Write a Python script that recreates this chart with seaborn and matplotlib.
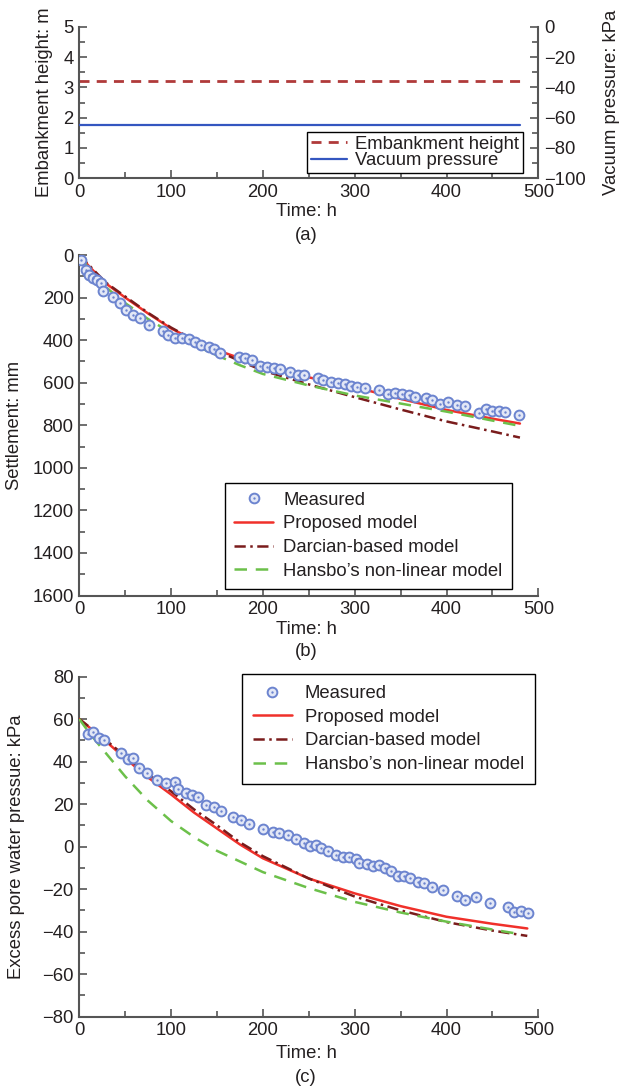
import numpy as np
import pandas as pd
import matplotlib
matplotlib.use("Agg")
import matplotlib.pyplot as plt
import seaborn as sns
from matplotlib.lines import Line2D
from matplotlib.legend_handler import HandlerTuple
from matplotlib.ticker import MultipleLocator

# ---------------- data ----------------
# (a) loading
time_a = [0, 480]
emb_height = [3.2, 3.2]          # m
vac_pressure = [-65, -65]        # kPa

# (b) settlement
t_meas_b = [2, 7, 11, 15, 19, 24, 26, 37, 44, 51, 59, 66, 76, 91, 97, 104, 112, 119, 126,
            133, 141, 147, 153, 174, 181, 188, 197, 205, 212, 219, 230, 238, 245, 260, 265,
            274, 282, 289, 296, 303, 311, 327, 336, 344, 351, 359, 366, 378, 384, 393, 402,
            411, 420, 435, 443, 450, 457, 464, 479]
s_meas_b = [24, 70, 94, 109, 117, 133, 168, 196, 227, 259, 282, 297, 329, 356, 376, 388, 392,
            397, 407, 423, 431, 444, 460, 479, 486, 494, 522, 525, 533, 537, 548, 563, 563,
            580, 588, 596, 601, 607, 617, 622, 627, 635, 654, 647, 651, 658, 666, 674, 682,
            698, 690, 705, 710, 744, 722, 734, 734, 737, 752]
t_model_b = [0, 10, 20, 30, 50, 75, 100, 125, 150, 175, 200, 250, 300, 350, 400, 450, 480]
s_proposed = [0, 50, 95, 137, 200, 275, 345, 400, 447, 485, 520, 575, 621, 676, 728, 769, 792]
s_darcian = [0, 45, 90, 133, 195, 272, 341, 400, 450, 498, 543, 608, 668, 726, 782, 829, 858]
s_hansbo = [0, 60, 115, 155, 226, 301, 366, 422, 472, 518, 559, 613, 660, 698, 736, 778, 803]

# (c) excess pore water pressure
t_meas_c = [9, 15, 22, 27, 45, 53, 59, 65, 74, 85, 94, 104, 108, 116, 123, 129, 138, 147, 154,
            167, 176, 185, 200, 211, 218, 227, 236, 245, 251, 258, 263, 271, 280, 287, 294,
            301, 305, 313, 320, 326, 333, 340, 347, 354, 360, 369, 376, 384, 396, 411, 420,
            432, 447, 467, 474, 481, 489]
p_meas_c = [53.0, 54.1, 51.0, 50.2, 44.0, 41.1, 41.6, 36.9, 34.8, 31.1, 29.8, 30.6, 27.0,
            25.4, 24.4, 23.2, 19.6, 18.8, 16.9, 13.8, 12.6, 10.7, 8.2, 7.1, 6.3, 5.5, 3.5,
            1.6, 0.3, 0.8, -0.8, -1.9, -3.9, -4.7, -5.0, -5.9, -7.8, -8.1, -9.1, -8.6,
            -10.2, -11.3, -13.8, -13.8, -14.9, -16.5, -17.2, -18.8, -20.4, -23.2, -25.1,
            -23.8, -26.4, -28.5, -30.6, -30.1, -31.1]
t_model_c = [0, 25, 50, 75, 100, 125, 150, 175, 200, 250, 300, 350, 400, 450, 488]
p_proposed = [60, 51, 41.5, 32.5, 24.5, 16, 8.5, 1, -5.5, -15, -22, -28, -33, -36.3, -38.5]
p_darcian = [60, 51.5, 42.5, 34, 26, 17.5, 10, 2, -4.5, -15, -23.5, -30, -35.5, -39.5, -42]
t_hansbo_c = [0, 10, 25, 50, 75, 100, 125, 150, 200, 250, 300, 350, 400, 450, 475]
p_hansbo = [60, 54, 46, 33, 21.5, 12, 4.5, -2, -12, -19.5, -26, -31, -35.3, -39, -40.8]

labels_model = ["Proposed model", "Darcian-based model", "Hansbo\u2019s non-linear model"]

# ---------------- style ----------------
sns.set_theme(style="ticks")
plt.rcParams["font.family"] = ["Liberation Sans", "DejaVu Sans"]
plt.rcParams["axes.unicode_minus"] = True

TXT = "#231f20"
SPINE = "#555555"
FS = 13.3
C_RED = "#f0302a"
C_DARK = "#7a1c1c"
C_GREEN = "#6cc04a"
C_EMB = "#b03a3a"
C_VAC = "#3456c0"
C_MEC = "#6c84cf"
C_MFC = "#e2e7f6"

W, H = 620, 1091
fig = plt.figure(figsize=(W / 100, H / 100), dpi=100)
fig.patch.set_facecolor("white")


def axes_px(x0, y0, x1, y1):
    return fig.add_axes([x0 / W, 1 - y1 / H, (x1 - x0) / W, (y1 - y0) / H])


def style(ax, right=False, left=True):
    ax.set_facecolor("white")
    ax.spines["top"].set_visible(False)
    ax.spines["right"].set_visible(right)
    ax.spines["left"].set_visible(left)
    for s in ax.spines.values():
        s.set_color(SPINE)
        s.set_linewidth(1.5)
    ax.tick_params(which="both", direction="in", colors=SPINE, labelcolor=TXT,
                   labelsize=FS, width=1.2, pad=4)
    ax.tick_params(which="major", length=6)
    ax.tick_params(which="minor", length=4)
    ax.grid(False)


X0, X1 = 79.3, 538.3
ax_a = axes_px(X0, 26.7, X1, 178.3)
ax_b = axes_px(X0, 255, X1, 595.5)
ax_c = axes_px(X0, 676.5, X1, 1016.7)

# ---------- (a) ----------
style(ax_a)
ax_a2 = ax_a.twinx()
style(ax_a2, right=True, left=False)
ax_a2.spines["bottom"].set_visible(False)

sns.lineplot(x=time_a, y=emb_height, ax=ax_a, color=C_EMB, lw=2.0, linestyle="--")
ax_a.lines[-1].set_dashes([3.6, 2.6])
sns.lineplot(x=time_a, y=vac_pressure, ax=ax_a2, color=C_VAC, lw=1.6)

ax_a.set_xlim(0, 500)
ax_a.set_ylim(0, 5)
ax_a2.set_ylim(-100, 0)
ax_a.xaxis.set_major_locator(MultipleLocator(100))
ax_a.xaxis.set_minor_locator(MultipleLocator(50))
ax_a.yaxis.set_major_locator(MultipleLocator(1))
ax_a.yaxis.set_minor_locator(MultipleLocator(0.5))
ax_a2.yaxis.set_major_locator(MultipleLocator(20))
ax_a2.yaxis.set_minor_locator(MultipleLocator(10))
ax_a2.tick_params(axis="y", which="both", left=False, right=True)
ax_a.set_xlabel("")
ax_a.set_ylabel("Embankment height: m", fontsize=FS, color=TXT, va="center")
ax_a.yaxis.set_label_coords((45 - X0) / (X1 - X0), 0.5)
ax_a2.set_ylabel("Vacuum pressure: kPa", fontsize=FS, color=TXT, va="center", rotation=90)
ax_a2.yaxis.set_label_coords((612 - X0) / (X1 - X0), 0.5)

h_emb = Line2D([], [], color=C_EMB, lw=2.0, dashes=[3.6, 2.6])
h_vac = Line2D([], [], color=C_VAC, lw=1.6)
leg_a = ax_a2.legend([h_emb, h_vac], ["Embankment height", "Vacuum pressure"],
                     loc="lower right", bbox_to_anchor=(0.967, 0.037), fontsize=FS,
                     frameon=True, fancybox=False, framealpha=1, edgecolor="black",
                     borderpad=0.2, labelspacing=-0.05, handlelength=1.95,
                     handletextpad=0.45, borderaxespad=0)
leg_a.get_frame().set_linewidth(1.0)
for t in leg_a.get_texts():
    t.set_color(TXT)


# ---------- helpers for (b), (c) ----------
def measured(ax, x, y):
    sns.scatterplot(x=x, y=y, ax=ax, marker="o", s=50, facecolor=C_MFC,
                    edgecolor=C_MEC, linewidth=1.4, zorder=4, legend=False)
    sns.scatterplot(x=x, y=y, ax=ax, marker="o", s=3, color=C_MEC,
                    linewidth=0, zorder=5, legend=False)


def models(ax, tm, y1, y2, th, y3):
    sns.lineplot(x=tm, y=y1, ax=ax, color=C_RED, lw=1.8, zorder=3)
    sns.lineplot(x=tm, y=y2, ax=ax, color=C_DARK, lw=1.8, zorder=3, linestyle="-.")
    ax.lines[-1].set_dashes([4.5, 1.8, 1.0, 1.8])
    sns.lineplot(x=th, y=y3, ax=ax, color=C_GREEN, lw=1.8, zorder=3, linestyle="--")
    ax.lines[-1].set_dashes([5.0, 3.5])


def model_legend(ax, loc, anchor, borderpad=0.5, textpad=0.55):
    ring = Line2D([], [], marker="o", ls="", ms=7.0, mfc=C_MFC, mec=C_MEC, mew=1.4)
    dot = Line2D([], [], marker="o", ls="", ms=1.7, mfc=C_MEC, mec=C_MEC, mew=0)
    h1 = Line2D([], [], color=C_RED, lw=1.8)
    h2 = Line2D([], [], color=C_DARK, lw=1.8, dashes=[4.5, 1.8, 1.0, 1.8])
    h3 = Line2D([], [], color=C_GREEN, lw=1.8, dashes=[5.0, 3.5])
    leg = ax.legend([(ring, dot), h1, h2, h3], ["Measured"] + labels_model,
                    handler_map={tuple: HandlerTuple(ndivide=1)},
                    loc=loc, bbox_to_anchor=anchor, fontsize=FS, frameon=True,
                    fancybox=False, framealpha=1, edgecolor="black", borderpad=borderpad,
                    labelspacing=0.36, handlelength=2.1, handletextpad=textpad,
                    borderaxespad=0)
    leg.get_frame().set_linewidth(1.0)
    for t in leg.get_texts():
        t.set_color(TXT)
    return leg


# ---------- (b) ----------
style(ax_b)
measured(ax_b, t_meas_b, s_meas_b)
models(ax_b, t_model_b, s_proposed, s_darcian, t_model_b, s_hansbo)
ax_b.set_xlim(0, 500)
ax_b.set_ylim(1600, 0)
ax_b.xaxis.set_major_locator(MultipleLocator(100))
ax_b.xaxis.set_minor_locator(MultipleLocator(50))
ax_b.yaxis.set_major_locator(MultipleLocator(200))
ax_b.yaxis.set_minor_locator(MultipleLocator(100))
ax_b.set_xlabel("")
ax_b.set_ylabel("Settlement: mm", fontsize=FS, color=TXT, va="center")
ax_b.yaxis.set_label_coords((15 - X0) / (X1 - X0), 0.5)
model_legend(ax_b, "lower right", ((511.7 - X0) / (X1 - X0), (595.5 - 589) / 340.5),
             borderpad=0.5, textpad=0.55)

# ---------- (c) ----------
style(ax_c)
measured(ax_c, t_meas_c, p_meas_c)
models(ax_c, t_model_c, p_proposed, p_darcian, t_hansbo_c, p_hansbo)
ax_c.set_xlim(0, 500)
ax_c.set_ylim(-80, 80)
ax_c.xaxis.set_major_locator(MultipleLocator(100))
ax_c.xaxis.set_minor_locator(MultipleLocator(50))
ax_c.yaxis.set_major_locator(MultipleLocator(20))
ax_c.yaxis.set_minor_locator(MultipleLocator(10))
ax_c.set_xlabel("")
ax_c.set_ylabel("Excess pore water pressue: kPa", fontsize=FS, color=TXT, va="center")
ax_c.yaxis.set_label_coords((17 - X0) / (X1 - X0), 0.5)
model_legend(ax_c, "upper right", ((535 - X0) / (X1 - X0), (1016.7 - 674) / 340.2),
             borderpad=0.6, textpad=0.7)

# ---------- x labels and captions ----------
xc = 306 / W
for ytl, ycap, cap in [(212, 235, "(a)"), (630, 651, "(b)"), (1053, 1077, "(c)")]:
    fig.text(xc, 1 - ytl / H, "Time: h", ha="center", va="center", fontsize=FS, color=TXT)
    fig.text(xc, 1 - ycap / H, cap, ha="center", va="center", fontsize=FS, color=TXT)

fig.savefig("out.png", dpi=100, facecolor="white")
